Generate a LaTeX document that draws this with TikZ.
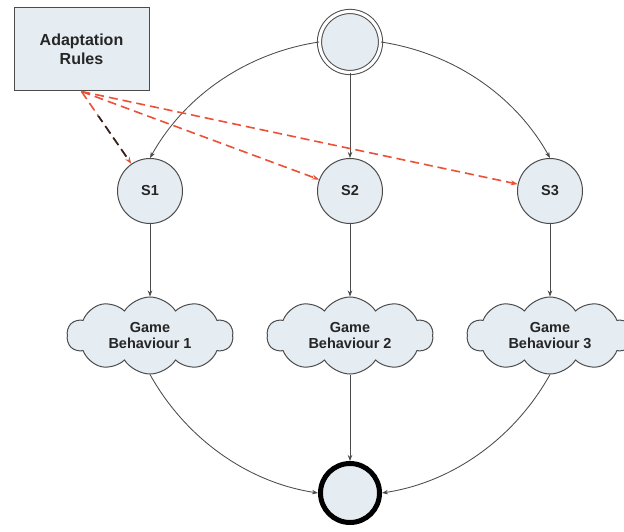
\documentclass[tikz,border=0pt]{standalone}
\usepackage{fontspec}
\setmainfont{Liberation Sans}
\usetikzlibrary{shapes.symbols,arrows.meta,calc}
\definecolor{nodefill}{RGB}{229,236,242}
\definecolor{edgegray}{RGB}{75,75,75}
\definecolor{rulered}{RGB}{236,80,55}
\begin{document}
\begin{tikzpicture}[x=1pt,y=1pt,
  every node/.style={font=\fontsize{14.5}{16.5}\selectfont\bfseries, text=black!85},
  statenode/.style={circle, draw=edgegray, line width=1pt, fill=nodefill, minimum size=65pt, inner sep=0pt},
  cloudnode/.style={cloud, cloud puffs=10, cloud puff arc=115, aspect=2.3, draw=edgegray, line width=1pt, fill=nodefill, minimum width=166pt, minimum height=77pt, inner sep=0pt, align=center},
  flow/.style={draw=edgegray, line width=0.85pt, -{Stealth[length=6pt,width=4.5pt]}},
  rulearrow/.style={draw=rulered, line width=1.6pt, dash pattern=on 9pt off 5pt, -{Stealth[length=7pt,width=5pt]}},
]
\useasboundingbox (0,0) rectangle (624,531);
\fill[white] (0,0) rectangle (624,531);

\node[draw=edgegray, line width=1pt, fill=nodefill, minimum width=135pt, minimum height=83pt, align=center,
      font=\fontsize{16}{19}\selectfont\bfseries] (rules) at (81.5,481.5) {Adaptation\\Rules};

\node[circle, draw=edgegray, line width=1pt, double=white, double distance=3.2pt, fill=nodefill, minimum size=61pt, inner sep=0pt] (start) at (350,489) {};

\node[statenode] (s1) at (150,340) {S1};
\node[statenode] (s2) at (350,340) {S2};
\node[statenode] (s3) at (550,340) {S3};

\node[cloudnode] (gb1) at (150,195.5) {Game\\Behaviour 1};
\node[cloudnode] (gb2) at (350,195.5) {Game\\Behaviour 2};
\node[cloudnode] (gb3) at (550,195.5) {Game\\Behaviour 3};

\node[circle, draw=black, line width=5pt, fill=nodefill, minimum size=59pt, inner sep=0pt] (final) at (350,38) {};

% top arcs
\draw[flow] (start.west) to[out=188.6, in=60.9, looseness=0.9] (s1.north);
\draw[flow] (start.south) -- (s2.north);
\draw[flow] (start.east) to[out=-8.6, in=119.1, looseness=0.9] (s3.north);

% state to behaviour
\draw[flow] (s1.south) -- (gb1.north);
\draw[flow] (s2.south) -- (gb2.north);
\draw[flow] (s3.south) -- (gb3.north);

% behaviour to final
\draw[flow] (gb1.south) to[out=-60.9, in=171.4, looseness=0.9] (final.west);
\draw[flow] (gb2.south) -- (final.north);
\draw[flow] (gb3.south) to[out=-119.1, in=8.6, looseness=0.9] (final.east);

% adaptation rules
\draw[rulearrow] (rules.south) -- (s1);
\begin{scope}
  \clip (0,374) rectangle (200,414);
  \draw[draw=black!85, line width=1.6pt, dash pattern=on 9pt off 5pt] (rules.south) -- (s1);
\end{scope}
\draw[rulearrow] (rules.south) -- (s2);
\draw[rulearrow] (rules.south) -- (s3);
\end{tikzpicture}
\end{document}
